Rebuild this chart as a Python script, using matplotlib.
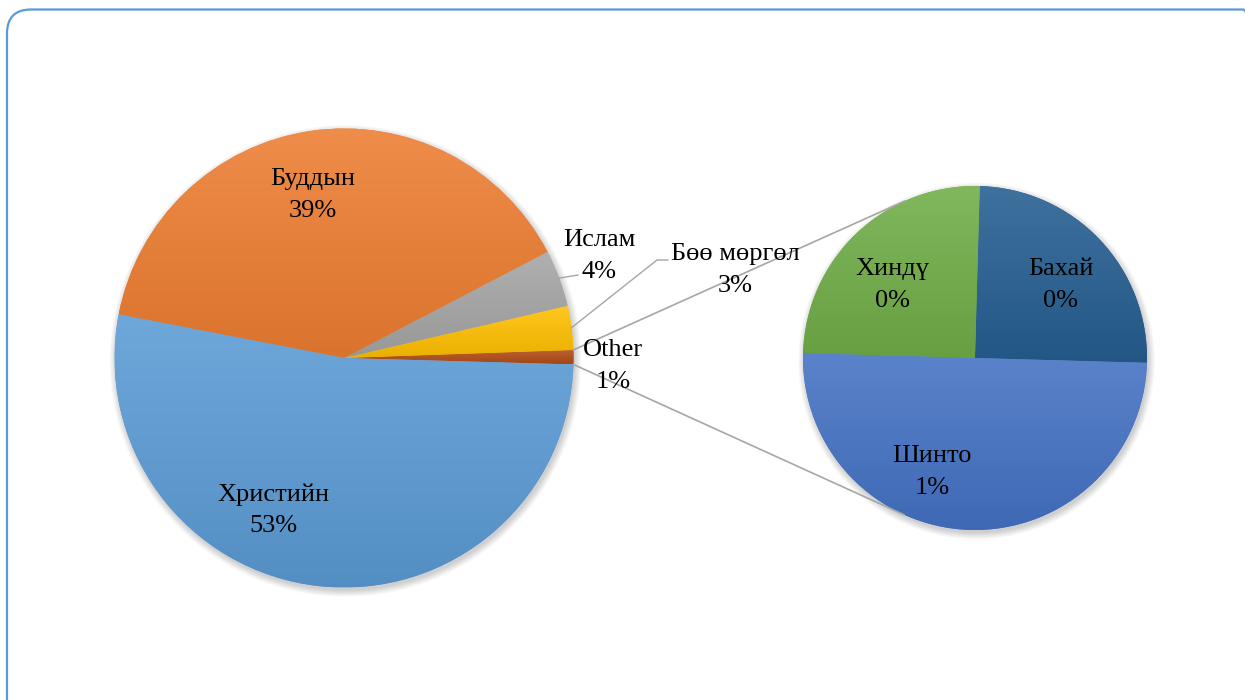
import numpy as np
import matplotlib
matplotlib.use("Agg")
import matplotlib.pyplot as plt
from matplotlib.patches import Circle, FancyBboxPatch
from matplotlib.colors import to_rgb

# main pie (counterclockwise from the "Other" slice)
main_labels = ['Other', 'Бөө мөргөл', 'Ислам', 'Буддын', 'Христийн']
main_values = [1.0, 3.1, 4.0, 39.3, 52.6]
main_colors = ['#B24C17', '#FFC000', '#A5A5A5', '#ED7D31', '#5B9BD5']

# second pie: breakdown of "Other"
sub_labels = ['Бахай', 'Хиндү', 'Шинто']
sub_values = [0.25, 0.25, 0.5]
sub_colors = ['#255E91', '#70AD47', '#4472C4']

W, H = 1245, 700
SERIF = ['Liberation Serif', 'DejaVu Serif']

fig = plt.figure(figsize=(W / 100, H / 100), dpi=100)
ax = fig.add_axes([0, 0, 1, 1])

main_c, main_r = (344, 342), 229.5
sub_c, sub_r = (975, 342), 172
start = -1.6


def shadow(center, r):
    for i in range(8):
        ax.add_patch(Circle((center[0] + 1.5, center[1] - 3), r + i * 0.9,
                            color='k', alpha=0.025, lw=0, zorder=0))


def gradient_fill(wedges, colors):
    for w, c in zip(wedges, colors):
        base = np.array(to_rgb(c))
        top = base + (1 - base) * 0.12
        bot = base * 0.92
        t = np.linspace(0, 1, 64)[:, None]
        img = (top * (1 - t) + bot * t)[:, None, :]
        ext = w.get_path().get_extents()
        im = ax.imshow(img, extent=(ext.x0, ext.x1, ext.y0, ext.y1),
                       aspect='auto', origin='upper', zorder=2,
                       interpolation='bilinear')
        im.set_clip_path(w)


shadow(main_c, main_r)
shadow(sub_c, sub_r)

wm, _ = ax.pie(main_values, colors=main_colors, startangle=start,
               counterclock=True, center=main_c, radius=main_r,
               wedgeprops=dict(lw=0, zorder=1))
ws, _ = ax.pie(sub_values, colors=sub_colors, startangle=start,
               counterclock=True, center=sub_c, radius=sub_r,
               wedgeprops=dict(lw=0, zorder=1))
gradient_fill(wm, main_colors)
gradient_fill(ws, sub_colors)


def pct(v, total):
    return f"{int(v / total * 100 + 0.5 + 1e-9)}%"


total = sum(main_values)
main_pos = {'Other': (613, 334), 'Бөө мөргөл': (735, 430), 'Ислам': (599, 444),
            'Буддын': (313, 505), 'Христийн': (273, 190)}
sub_pos = {'Бахай': (1061, 415), 'Хиндү': (892, 415), 'Шинто': (932, 228)}

for lab, v in zip(main_labels, main_values):
    x, y = main_pos[lab]
    ax.text(x, y, f"{lab}\n{pct(v, total)}", ha='center', va='center',
            fontsize=19, family=SERIF, linespacing=1.55, zorder=5)
for lab, v in zip(sub_labels, sub_values):
    x, y = sub_pos[lab]
    ax.text(x, y, f"{lab}\n{pct(v, total)}", ha='center', va='center',
            fontsize=19, family=SERIF, linespacing=1.55, zorder=5)

gray = '#A6A6A6'
# leader lines for small slices
mid_isl = np.radians((wm[2].theta1 + wm[2].theta2) / 2)
p = (main_c[0] + main_r * np.cos(mid_isl), main_c[1] + main_r * np.sin(mid_isl))
ax.plot([p[0], 578], [p[1], 425], color=gray, lw=1, zorder=4)
mid_boo = np.radians((wm[1].theta1 + wm[1].theta2) / 2)
p = (main_c[0] + main_r * np.cos(mid_boo), main_c[1] + main_r * np.sin(mid_boo))
ax.plot([p[0], 657, 668], [p[1], 440, 440], color=gray, lw=1, zorder=4)

# connector lines from "Other" to the second pie (tangent points)
for ang, sign in [(wm[0].theta2, -1), (wm[0].theta1, 1)]:
    a = np.radians(ang)
    P = np.array([main_c[0] + main_r * np.cos(a), main_c[1] + main_r * np.sin(a)])
    C = np.array(sub_c)
    d = np.hypot(*(P - C))
    phi = np.arctan2(P[1] - C[1], P[0] - C[0])
    al = np.arccos(sub_r / d)
    T = C + sub_r * np.array([np.cos(phi + sign * al), np.sin(phi + sign * al)])
    ax.plot([P[0], T[0]], [P[1], T[1]], color=gray, lw=1.2, zorder=4)

# slide frame
ax.add_patch(FancyBboxPatch((7, -30), 1260, 720.5, boxstyle="round,pad=0,rounding_size=24",
                            fill=False, ec='#5B9BD5', lw=1.6, zorder=6))

ax.set_xlim(0, W)
ax.set_ylim(0, H)
ax.set_aspect('auto')
ax.axis('off')
fig.savefig('out.png', dpi=100)
